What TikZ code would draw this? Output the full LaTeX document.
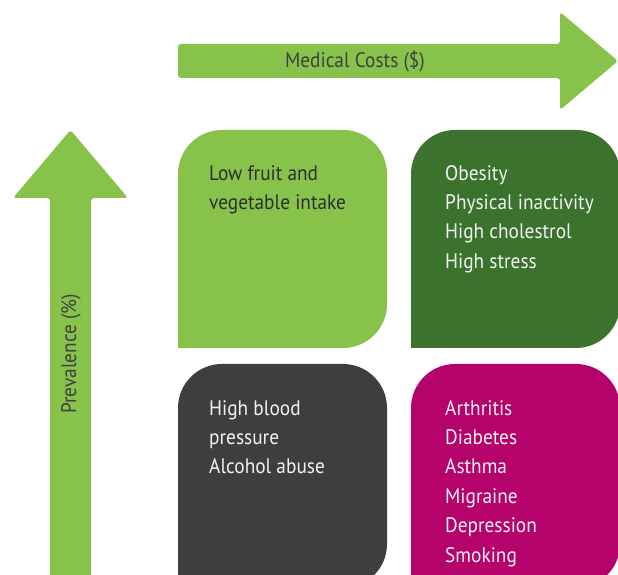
\documentclass[tikz,border=0pt]{standalone}
\usepackage{fontspec}
\setmainfont{PT Sans}[FakeStretch=0.92]
\definecolor{lightgreen}{HTML}{87C34B}
\definecolor{darkgreen}{HTML}{3B722E}
\definecolor{boxgray}{HTML}{3E3E3E}
\definecolor{magenta}{HTML}{B6036B}
\definecolor{darktext}{HTML}{2E2E2E}
\definecolor{axistext}{HTML}{404040}
\definecolor{boxwhite}{HTML}{F2F2F2}
\begin{document}
\begin{tikzpicture}[x=1pt, y=1pt,
    boxtext/.style={inner sep=0pt, align=left, anchor=north west, font=\fontsize{21}{29.4}\selectfont},
    axistitle/.style={inner sep=0pt, text=axistext, font=\fontsize{21}{25}\selectfont}]
    \useasboundingbox (0,0) rectangle (618,575);
    \clip (0,0) rectangle (618,575);

    % axes
    \fill[lightgreen, rounded corners=3] (178,497) -- (178,531) -- (560,531) -- (560,563) -- (618,514) -- (560,465) -- (560,497) -- cycle;
    \fill[lightgreen, rounded corners=3] (50,-6) -- (50,377) -- (13,377) -- (70.5,445) -- (128,377) -- (91,377) -- (91,-6) -- cycle;

    \node[axistitle] at (355,514) (cost) {Medical Costs (\$)};
    \node[axistitle, rotate=90] at (71,221) (prev) {Prevalence (\%)};

    % boxes
    \fill[lightgreen] (178,227) -- (178,401) arc[start angle=180, end angle=90, radius=44] -- (343,445) arc[start angle=90, end angle=0, radius=44] -- (387,271) arc[start angle=0, end angle=-90, radius=44] -- cycle;
    \fill[darkgreen] (411,227) -- (411,401) arc[start angle=180, end angle=90, radius=44] -- (576,445) arc[start angle=90, end angle=0, radius=44] -- (620,271) arc[start angle=0, end angle=-90, radius=44] -- cycle;
    \fill[boxgray] (178,-13) -- (178,167) arc[start angle=180, end angle=90, radius=44] -- (343,211) arc[start angle=90, end angle=0, radius=44] -- (387,31) arc[start angle=0, end angle=-90, radius=44] -- cycle;
    \fill[magenta] (411,-13) -- (411,167) arc[start angle=180, end angle=90, radius=44] -- (576,211) arc[start angle=90, end angle=0, radius=44] -- (620,31) arc[start angle=0, end angle=-90, radius=44] -- cycle;

    \node[boxtext, text=darktext] at (209,410) (fruit) {Low fruit and\\vegetable intake};
    \node[boxtext, text=boxwhite] at (445,410) (obesity) {Obesity\\Physical inactivity\\High cholestrol\\High stress};
    \node[boxtext, text=boxwhite] at (209,175) (blood) {High blood\\pressure\\Alcohol abuse};
    \node[boxtext, text=boxwhite] at (445,175) (arthritis) {Arthritis\\Diabetes\\Asthma\\Migraine\\Depression\\Smoking};
\end{tikzpicture}
\end{document}
